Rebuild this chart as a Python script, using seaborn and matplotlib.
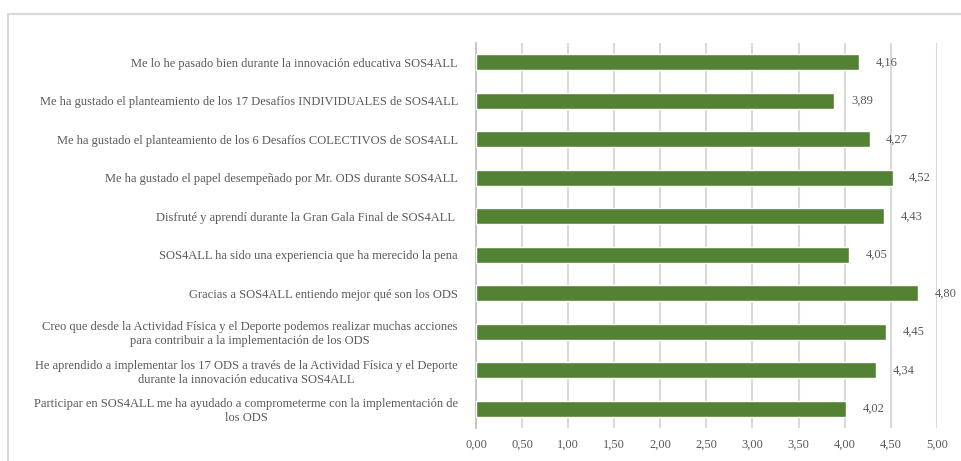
import matplotlib
matplotlib.use("Agg")
import matplotlib.pyplot as plt
from matplotlib.lines import Line2D
import seaborn as sns
import pandas as pd

statements = [
    "Me lo he pasado bien durante la innovación educativa SOS4ALL",
    "Me ha gustado el planteamiento de los 17 Desafíos INDIVIDUALES de SOS4ALL",
    "Me ha gustado el planteamiento de los 6 Desafíos COLECTIVOS de SOS4ALL",
    "Me ha gustado el papel desempeñado por Mr. ODS durante SOS4ALL",
    "Disfruté y aprendí durante la Gran Gala Final de SOS4ALL ",
    "SOS4ALL ha sido una experiencia que ha merecido la pena",
    "Gracias a SOS4ALL entiendo mejor qué son los ODS",
    "Creo que desde la Actividad Física y el Deporte podemos realizar muchas acciones\npara contribuir a la implementación de los ODS",
    "He aprendido a implementar los 17 ODS a través de la Actividad Física y el Deporte\ndurante la innovación educativa SOS4ALL",
    "Participar en SOS4ALL me ha ayudado a comprometerme con la implementación de\nlos ODS",
]
scores = [4.16, 3.89, 4.27, 4.52, 4.43, 4.05, 4.80, 4.45, 4.34, 4.02]
x_ticks = [0.0, 0.5, 1.0, 1.5, 2.0, 2.5, 3.0, 3.5, 4.0, 4.5, 5.0]

df = pd.DataFrame({"item": statements, "score": scores})

sns.set_style("white")
plt.rcParams["font.family"] = ["Liberation Serif", "DejaVu Serif"]

text_color = "#595959"
grid_color = "#d9d9d9"
bar_color = "#548235"

fig = plt.figure(figsize=(9.62, 4.61), dpi=100)
ax = fig.add_axes([0.4948, 0.0716, 0.4790, 0.8351])

sns.barplot(data=df, x="score", y="item", orient="h", color=bar_color,
            width=0.41, saturation=1, ax=ax, zorder=3)

def fmt(v):
    return f"{v:.2f}".replace(".", ",")

for patch, v in zip(ax.patches, scores):
    y = patch.get_y() + patch.get_height() / 2
    ax.annotate(fmt(v), xy=(v, y), xytext=(12, 0), textcoords="offset points",
                ha="left", va="center", fontsize=9, color=text_color)

ax.set_xlim(0, 5)
ax.set_ylim(len(statements) - 0.5, -0.5)
ax.set_xticks(x_ticks)
ax.set_xticklabels([fmt(t) for t in x_ticks])
ax.set_yticks(range(len(statements)))
ax.set_yticklabels(statements, multialignment="center")

ax.xaxis.grid(True, color=grid_color, linewidth=1.5, zorder=0)
ax.yaxis.grid(False)
ax.set_axisbelow(True)
for side in ["top", "right", "bottom"]:
    ax.spines[side].set_visible(False)
ax.spines["left"].set_color("#bfbfbf")
ax.spines["left"].set_linewidth(1.2)

ax.tick_params(axis="x", length=0, pad=8, labelsize=9, labelcolor=text_color)
ax.tick_params(axis="y", length=0, pad=13, labelsize=9, labelcolor=text_color)
ax.set_xlabel("")
ax.set_ylabel("")

# outer chart frame (top and left edges)
fig.add_artist(Line2D([0.0083, 1.0], [0.9696, 0.9696], transform=fig.transFigure,
                      color=grid_color, linewidth=1.5))
fig.add_artist(Line2D([0.0083, 0.0083], [0.0, 0.9696], transform=fig.transFigure,
                      color=grid_color, linewidth=1.5))

fig.savefig("out.png", dpi=100)
